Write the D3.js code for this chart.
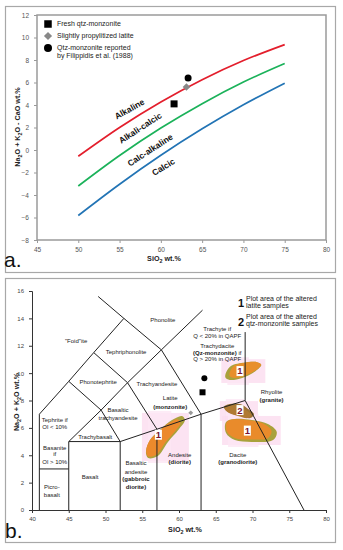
<!DOCTYPE html>
<html>
<head>
<meta charset="utf-8">
<script src="https://cdn.jsdelivr.net/npm/d3@7"></script>
<style>
  body { margin: 0; background: #fff; }
  text { font-family: "Liberation Sans", Arial, sans-serif; }
</style>
</head>
<body>
<svg id="fig" width="343" height="550"></svg>
<script>
// ---- panel a: MALI boundaries (Na2O+K2O-CaO vs SiO2) ----
var maliSiO2 = [50, 55, 60, 65, 70, 75];
var alkalineLine = [-0.56, 2.0, 4.27, 6.25, 7.95, 9.37];
var alkaliCalcicLine = [-3.2, -0.49, 1.95, 4.12, 6.04, 7.69];
var calcAlkalineLine = [-5.82, -3.04, -0.47, 1.88, 4.02, 5.94];
var xTicksA = [45, 50, 55, 60, 65, 70, 75, 80];
var yTicksA = [-8, -6, -4, -2, 0, 2, 4, 6, 8, 10, 12];

var sampleNames = ["Fresh qtz-monzonite", "Slightly propylitized latite", "Qtz-monzonite reported"];
var sampleShapes = ["square", "diamond", "circle"];
var sampleSiO2A = [61.6, 63.1, 63.3];
var sampleMaliA = [4.1, 5.6, 6.4];

var seriesLabels = ["Alkaline", "Alkali-calcic", "Calc-alkaline", "Calcic"];
var seriesLabelSiO2 = [56.2, 57.5, 58.7, 60.3];
var seriesLabelMali = [3.64, 1.96, 0.0, -1.51];

// ---- panel b: TAS diagram ----
var xTicksB = [40, 45, 50, 55, 60, 65, 70, 75, 80];
var yTicksB = [0, 2, 4, 6, 8, 10, 12, 14, 16];
var tasLines = [
  [[41, 0], [41, 7], [45, 9.4], [48.4, 11.5], [52.5, 14], [49, 15.6]],
  [[41, 3], [45, 3]],
  [[45, 0], [45, 5], [49.4, 7.3], [53, 9.3], [57.6, 11.7], [63.2, 14.6]],
  [[45, 9.4], [49.4, 7.3], [52, 5]],
  [[45, 5], [52, 5], [52, 0]],
  [[52, 5], [57, 5.9], [63, 7], [69, 8], [77, 0]],
  [[48.4, 11.5], [53, 9.3], [57, 5.9], [57, 0]],
  [[52.5, 14], [57.6, 11.7], [63, 7], [63, 0]],
  [[69, 8], [69, 13]]
];
var sampleSiO2B = [63.2, 61.6, 63.45];
var sampleAlkB = [8.6, 7.1, 9.63];

// altered sample plot areas (outlines in SiO2 / Na2O+K2O)
var areaNames = ["1", "2", "1", "1"];
var areaOutlines = [
  [[66.3, 9.7], [66.9, 10.45], [68.7, 10.75], [70.6, 10.8], [71.2, 10.6], [70.3, 10.1], [68.6, 9.65], [66.9, 9.5]],
  [[66.1, 7.52], [66.9, 7.74], [68.3, 7.74], [69.4, 7.38], [70.2, 7.0], [69.7, 6.72], [68.3, 6.87], [66.7, 7.16]],
  [[66.4, 6.43], [67.6, 6.65], [69.9, 6.57], [72.1, 6.28], [73.3, 5.7], [72.8, 5.11], [70.3, 4.97], [67.6, 5.11], [66.4, 5.62]],
  [[55.5, 4.24], [56.05, 5.11], [57.4, 5.84], [59.05, 6.57], [60.4, 6.87], [60.8, 6.57], [59.9, 5.84], [58.5, 4.97], [57.1, 3.94], [55.8, 3.8]]
];
var areaLabelPos = [[68.3, 10.15], [68.3, 7.3], [69.3, 5.8], [57.2, 5.5]];

var fieldLabels = [
  ["Phonolite", 57.8, 13.88, false],
  ["\"Foid\"ite", 46.0, 12.34, false],
  ["Tephriphonolite", 52.8, 11.54, false],
  ["Phonotephrite", 49.0, 9.35, false],
  ["Trachyandesite", 57.0, 9.2, false],
  ["Latite", 58.8, 8.16, false],
  ["(monzonite)", 58.8, 7.55, true],
  ["Basaltic", 51.7, 7.3, false],
  ["trachyandesite", 51.7, 6.7, false],
  ["Trachybasalt", 48.6, 5.35, false],
  ["Tephrite if", 43.1, 6.57, false],
  ["Ol < 10%", 43.1, 6.04, false],
  ["Basanite", 43.1, 4.55, false],
  ["if", 43.1, 4.07, false],
  ["Ol > 10%", 43.1, 3.53, false],
  ["Picro-", 42.7, 1.66, false],
  ["basalt", 42.7, 1.1, false],
  ["Basalt", 47.9, 2.39, false],
  ["Basaltic", 54.15, 3.41, false],
  ["andesite", 54.15, 2.8, false],
  ["(gabbroic", 54.15, 2.24, true],
  ["diorite)", 54.15, 1.7, true],
  ["Andesite", 60.1, 4.02, false],
  ["(diorite)", 60.1, 3.48, true],
  ["Dacite", 68.0, 4.02, false],
  ["(granodiorite)", 68.0, 3.48, true],
  ["Rhyolite", 72.6, 8.6, false],
  ["(granite)", 72.6, 8.04, true],
  ["Trachyte if", 65.2, 13.2, false],
  ["Q < 20% in QAPF", 65.2, 12.73, false],
  ["Trachydacite", 65.2, 11.98, false],
  ["Q > 20% in QAPF", 65.2, 11.01, false]
];

var svg = d3.select("#fig");

function marker(sel, shape, cx, cy, s, fill) {
  if (shape == "square") {
    sel.append("rect").attr("x", cx - s / 2).attr("y", cy - s / 2).attr("width", s).attr("height", s).attr("fill", fill);
  } else if (shape == "diamond") {
    sel.append("path").attr("d", d3.symbol().type(d3.symbolDiamond2).size(s * s * 0.75)()).attr("transform", "translate(" + cx + "," + cy + ")").attr("fill", fill);
  } else {
    sel.append("circle").attr("cx", cx).attr("cy", cy).attr("r", s / 2).attr("fill", fill);
  }
}

function subText(sel, parts) {
  // parts: [text, isSub]
  parts.forEach(function(p, i) {
    var t = sel.append("tspan").text(p[0]);
    if (p[1]) t.attr("font-size", "0.75em").attr("dy", 2);
    else if (i > 0 && parts[i - 1][1]) t.attr("dy", -2);
  });
}

// outer frames
svg.append("rect").attr("x", 5.5).attr("y", 6.5).attr("width", 330).attr("height", 266)
    .attr("fill", "none").attr("stroke", "#a8a8a8").attr("stroke-width", 1.2);
svg.append("rect").attr("x", 5.5).attr("y", 278.5).attr("width", 330).attr("height", 264)
    .attr("fill", "none").attr("stroke", "#a8a8a8").attr("stroke-width", 1.2);

// ================= panel a =================
var xa = d3.scaleLinear().domain([45, 80]).range([37, 326]);
var ya = d3.scaleLinear().domain([-8, 12]).range([240, 15]);
var ga = svg.append("g");

var axA = ga.append("g").attr("transform", "translate(0,240)")
    .call(d3.axisBottom(xa).tickValues(xTicksA).tickSize(3).tickPadding(4));
var ayA = ga.append("g").attr("transform", "translate(37,0)")
    .call(d3.axisLeft(ya).tickValues(yTicksA).tickSize(3).tickPadding(5));
[axA, ayA].forEach(function(a) {
  a.select(".domain").remove();
  a.selectAll("line").attr("stroke", "#999");
  a.selectAll("text").attr("font-size", 6.5).attr("fill", "#555").attr("font-family", "\"Liberation Sans\", Arial, sans-serif");
});

ga.append("rect").attr("x", 37).attr("y", 15).attr("width", 289).attr("height", 225)
    .attr("fill", "none").attr("stroke", "#9a9a9a").attr("stroke-width", 1.5);

var lineA = d3.line()
    .x(function(d, i) { return xa(maliSiO2[i]); })
    .y(function(d) { return ya(d); })
    .curve(d3.curveMonotoneX);

[[alkalineLine, "#e31e2c"], [alkaliCalcicLine, "#1bb25a"], [calcAlkalineLine, "#2274b5"]].forEach(function(s) {
  ga.append("path").attr("d", lineA(s[0])).attr("fill", "none").attr("stroke", s[1]).attr("stroke-width", 1.7);
});

var labelAngles = [-29, -33, -33, -31];
seriesLabels.forEach(function(t, i) {
  ga.append("text")
      .attr("transform", "translate(" + xa(seriesLabelSiO2[i]) + "," + ya(seriesLabelMali[i]) + ") rotate(" + labelAngles[i] + ")")
      .attr("text-anchor", "middle").attr("dy", "0.35em")
      .attr("font-size", 8.5).attr("font-weight", "bold").attr("fill", "#111")
      .text(t);
});

sampleShapes.forEach(function(sh, i) {
  var fill = sh == "diamond" ? "#888" : "#000";
  marker(ga, sh, xa(sampleSiO2A[i]), ya(sampleMaliA[i]), 7, fill);
});

// legend a
var legY = [24, 36, 48];
sampleShapes.forEach(function(sh, i) {
  marker(ga, sh, 48, legY[i], sh == "circle" ? 8 : 7.5, sh == "diamond" ? "#888" : "#000");
  ga.append("text").attr("x", 57).attr("y", legY[i] + 2.4).attr("font-size", 7).attr("fill", "#222").text(sampleNames[i]);
});
ga.append("text").attr("x", 57).attr("y", 57.8).attr("font-size", 7).attr("fill", "#222").text("by Filippidis et al. (1988)");

var ylabA = ga.append("text").attr("transform", "translate(20,127) rotate(-90)")
    .attr("text-anchor", "middle").attr("font-size", 7.2).attr("font-weight", "bold").attr("fill", "#222");
subText(ylabA, [["Na", 0], ["2", 1], ["O + K", 0], ["2", 1], ["O - CaO wt.%", 0]]);
var xlabA = ga.append("text").attr("x", 164).attr("y", 261).attr("text-anchor", "middle")
    .attr("font-size", 7.2).attr("font-weight", "bold").attr("fill", "#222");
subText(xlabA, [["SiO", 0], ["2", 1], [" wt.%", 0]]);

ga.append("text").attr("x", 4).attr("y", 267).attr("font-size", 21).attr("fill", "#111").text("a.");

// ================= panel b =================
var xb = d3.scaleLinear().domain([40, 80]).range([32, 326]);
var yb = d3.scaleLinear().domain([0, 16]).range([510, 291]);
var gb = svg.append("g");

// plot areas (behind lines)
var areaLine = d3.line()
    .x(function(d) { return xb(d[0]); })
    .y(function(d) { return yb(d[1]); })
    .curve(d3.curveCatmullRomClosed);
var olive = ["#a9a23c", "#9c7434", "#a9a23c", "#a9a23c"];
var body = ["#e88f2c", "#b07a33", "#e98b2b", "#ec8a2c"];
var shift = [[2, -1], [-1, 1], [-2, -1], [-2, 1]];

areaOutlines.forEach(function(pts, i) {
  var xs = pts.map(function(p) { return xb(p[0]); });
  var ys = pts.map(function(p) { return yb(p[1]); });
  var x0 = d3.min(xs), x1 = d3.max(xs), y0 = d3.min(ys), y1 = d3.max(ys);
  gb.append("rect").attr("x", x0 - 4).attr("y", y0 - 3).attr("width", x1 - x0 + 8).attr("height", y1 - y0 + 6)
      .attr("fill", "#fbdcef").attr("opacity", 0.8);
  gb.append("rect").attr("x", x0 + 2).attr("y", y0 - 5).attr("width", (x1 - x0) * 0.6).attr("height", y1 - y0 + 10)
      .attr("fill", "#fce6f4").attr("opacity", 0.8);
});
areaOutlines.forEach(function(pts, i) {
  gb.append("path").attr("d", areaLine(pts)).attr("fill", olive[i]);
  var cx = d3.mean(pts, function(p) { return xb(p[0]); });
  var cy = d3.mean(pts, function(p) { return yb(p[1]); });
  gb.append("path").attr("d", areaLine(pts)).attr("fill", body[i])
      .attr("transform", "translate(" + (cx + shift[i][0]) + "," + (cy + shift[i][1]) + ") scale(0.88) translate(" + (-cx) + "," + (-cy) + ")");
});

var axB = gb.append("g").attr("transform", "translate(0,510)")
    .call(d3.axisBottom(xb).tickValues(xTicksB).tickSize(3).tickPadding(4));
var ayB = gb.append("g").attr("transform", "translate(32,0)")
    .call(d3.axisLeft(yb).tickValues(yTicksB).tickSize(3).tickPadding(5));
[axB, ayB].forEach(function(a) {
  a.select(".domain").attr("stroke", "#333").attr("stroke-width", 1);
  a.selectAll("line").attr("stroke", "#333");
  a.selectAll("text").attr("font-size", 6).attr("fill", "#444").attr("font-family", "\"Liberation Sans\", Arial, sans-serif");
});

var tasLine = d3.line()
    .x(function(d) { return xb(d[0]); })
    .y(function(d) { return yb(d[1]); });
tasLines.forEach(function(l) {
  gb.append("path").attr("d", tasLine(l)).attr("fill", "none").attr("stroke", "#222").attr("stroke-width", 1);
});

fieldLabels.forEach(function(f) {
  gb.append("text").attr("x", xb(f[1])).attr("y", yb(f[2])).attr("dy", "0.35em")
      .attr("text-anchor", "middle").attr("font-size", 6)
      .attr("font-weight", f[3] ? "bold" : "normal").attr("fill", "#222").text(f[0]);
});
var qz = gb.append("text").attr("x", xb(65.2)).attr("y", yb(11.49)).attr("dy", "0.35em")
    .attr("text-anchor", "middle").attr("font-size", 6).attr("fill", "#222");
qz.append("tspan").attr("font-weight", "bold").text("(Qz-monzonite)");
qz.append("tspan").text(" if");

// area number tags
areaNames.forEach(function(n, i) {
  var px = xb(areaLabelPos[i][0]), py = yb(areaLabelPos[i][1]);
  gb.append("rect").attr("x", px - 3.5).attr("y", py - 5).attr("width", 7).attr("height", 10).attr("fill", "#fff");
  gb.append("text").attr("x", px).attr("y", py).attr("dy", "0.36em").attr("text-anchor", "middle")
      .attr("font-size", 9.5).attr("font-weight", "bold").attr("fill", "#7a1430").text(n);
});

// samples in TAS
sampleShapes.forEach(function(sh, i) {
  marker(gb, sh, xb(sampleSiO2B[i]), yb(sampleAlkB[i]), sh == "diamond" ? 4.5 : 6, sh == "diamond" ? "#999" : "#000");
});

// legend b
gb.append("text").attr("x", 241).attr("y", 307).attr("text-anchor", "middle").attr("font-size", 11).attr("font-weight", "bold").attr("fill", "#111").text("1");
gb.append("text").attr("x", 246).attr("y", 300.5).attr("font-size", 7).attr("fill", "#222").text("Plot area of the altered");
gb.append("text").attr("x", 246).attr("y", 307.5).attr("font-size", 7).attr("fill", "#222").text("latite samples");
gb.append("text").attr("x", 241).attr("y", 325.5).attr("text-anchor", "middle").attr("font-size", 11).attr("font-weight", "bold").attr("fill", "#111").text("2");
gb.append("text").attr("x", 246).attr("y", 319).attr("font-size", 7).attr("fill", "#222").text("Plot area of the altered");
gb.append("text").attr("x", 246).attr("y", 326).attr("font-size", 7).attr("fill", "#222").text("qtz-monzonite samples");

var ylabB = gb.append("text").attr("transform", "translate(19,402) rotate(-90)")
    .attr("text-anchor", "middle").attr("font-size", 7.2).attr("font-weight", "bold").attr("fill", "#222");
subText(ylabB, [["Na", 0], ["2", 1], ["O + K", 0], ["2", 1], ["O wt.%", 0]]);
var xlabB = gb.append("text").attr("x", 185).attr("y", 532).attr("text-anchor", "middle")
    .attr("font-size", 7.2).attr("font-weight", "bold").attr("fill", "#222");
subText(xlabB, [["SiO", 0], ["2", 1], [" wt.%", 0]]);

gb.append("text").attr("x", 5).attr("y", 538).attr("font-size", 21).attr("fill", "#111").text("b.");
</script>
</body>
</html>
